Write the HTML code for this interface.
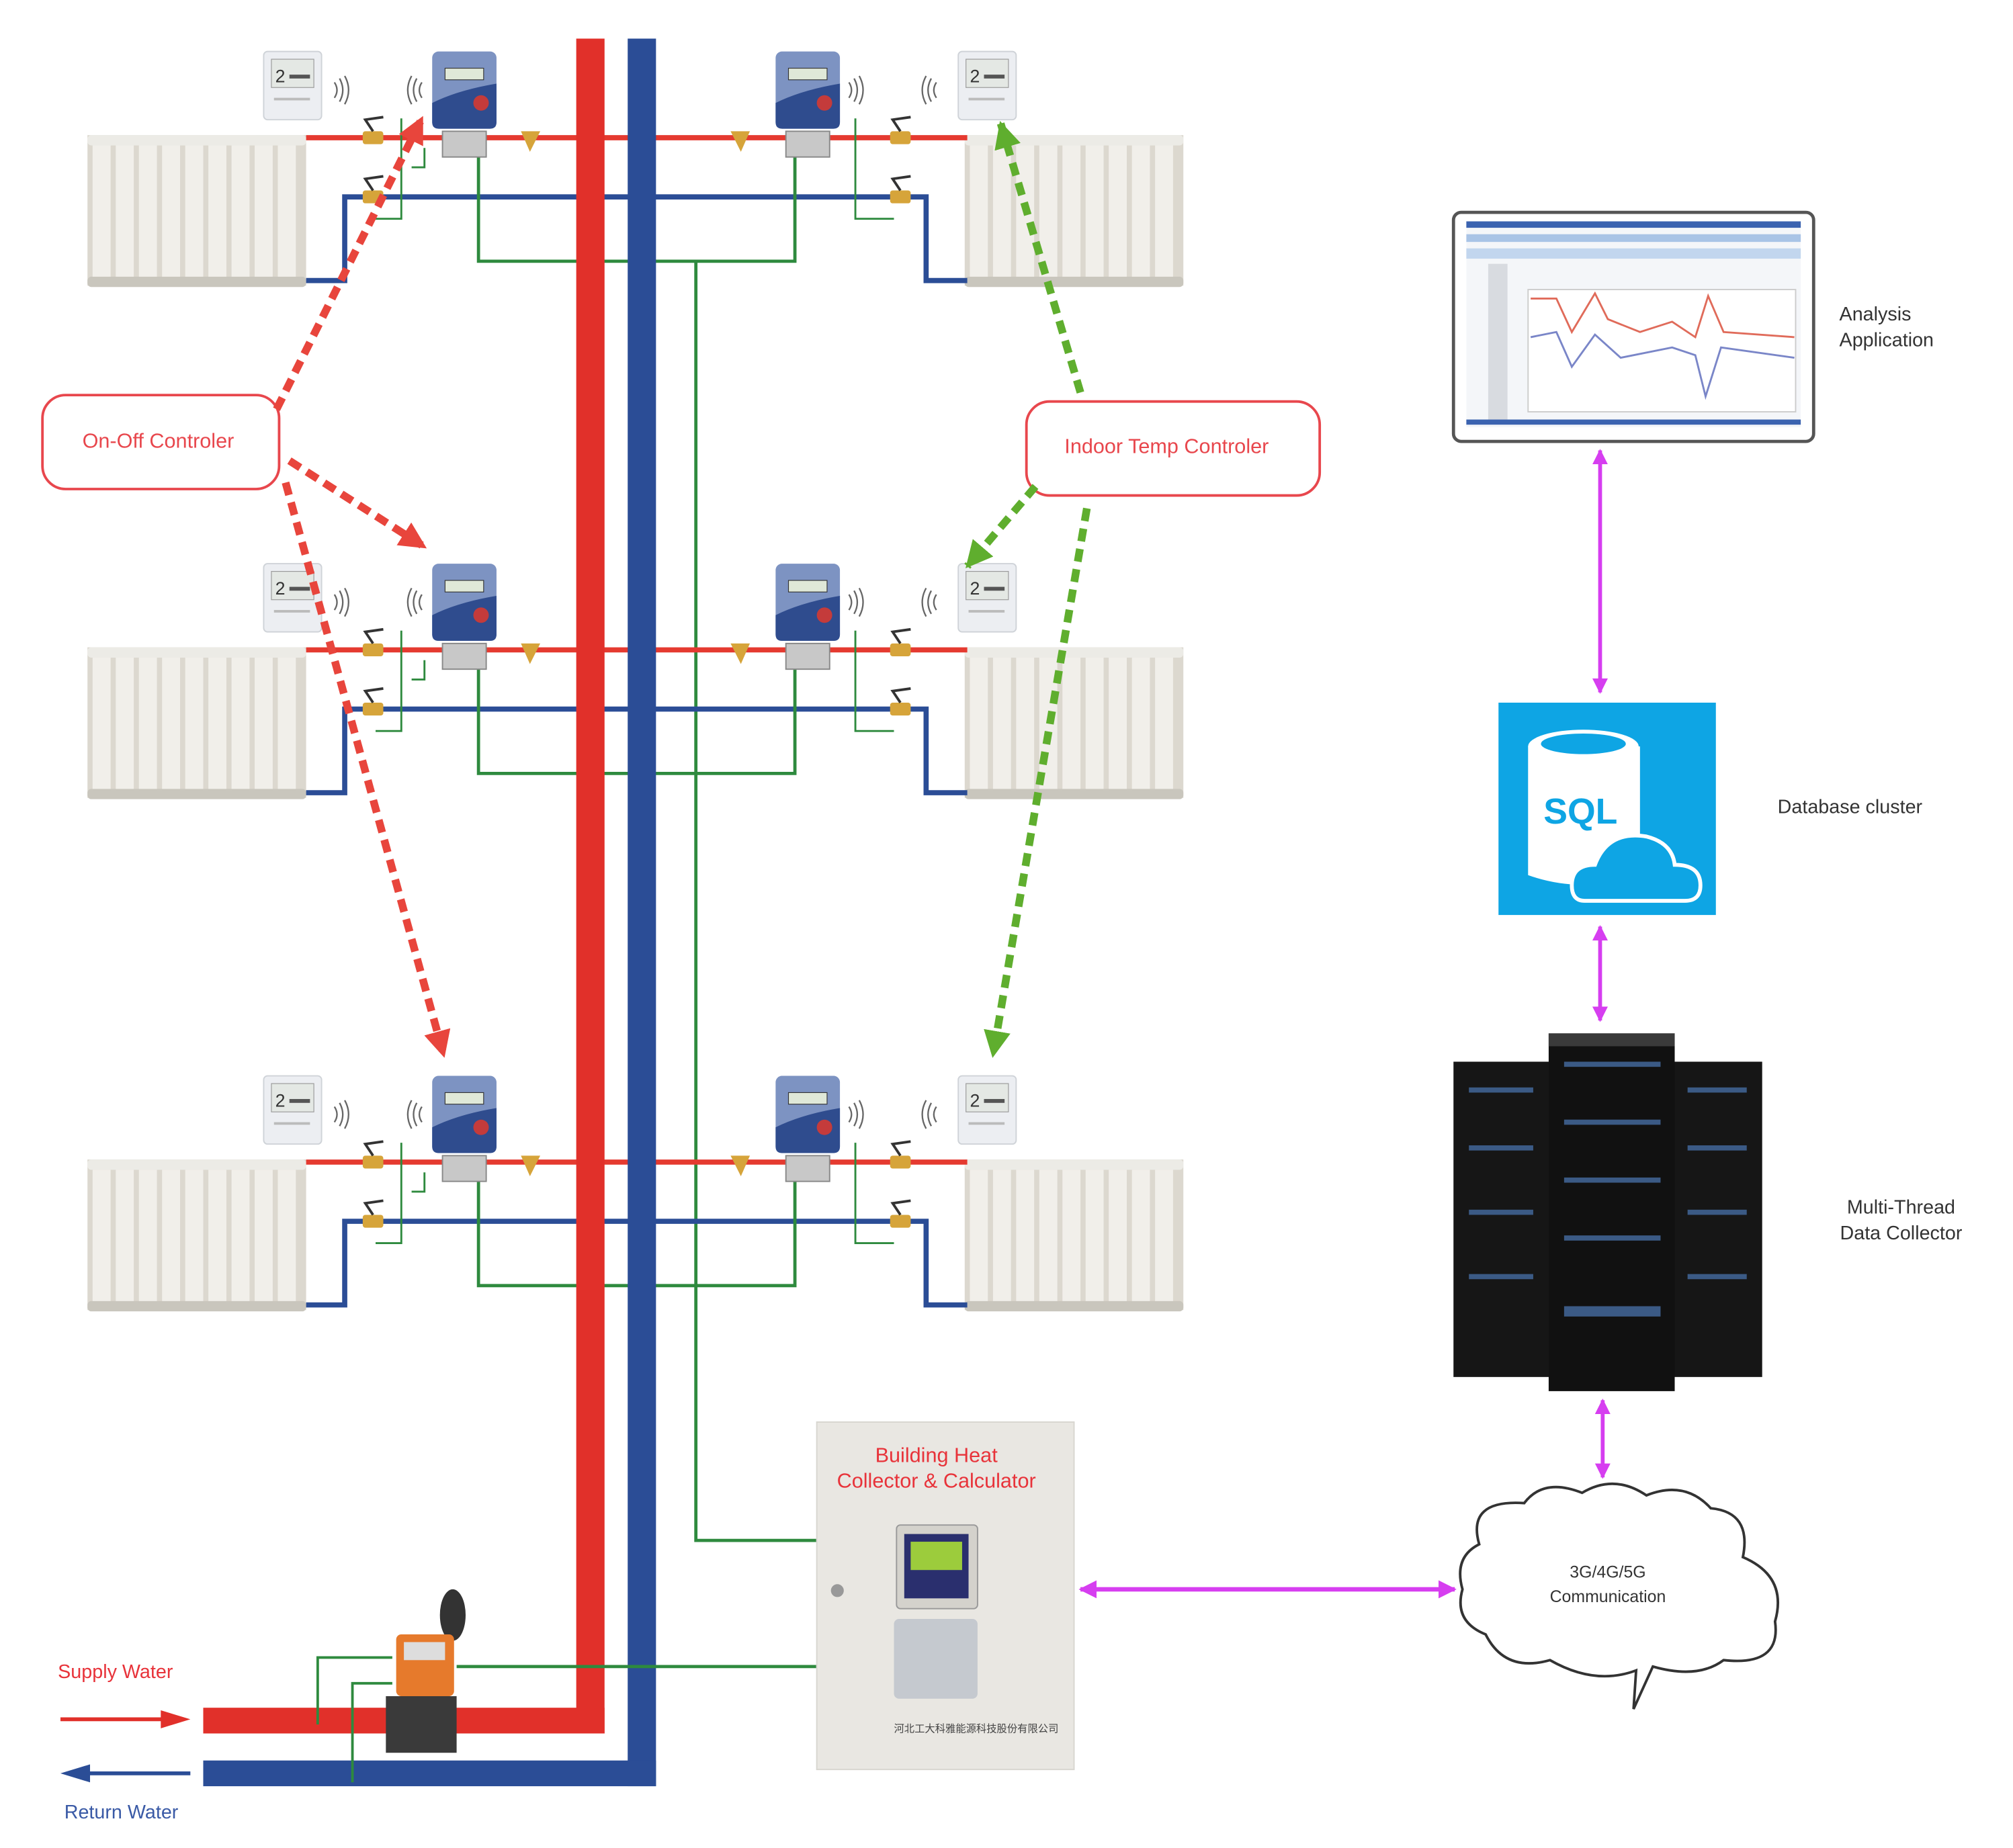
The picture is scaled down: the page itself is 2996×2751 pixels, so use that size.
<!DOCTYPE html>
<html><head><meta charset="utf-8"><style>
html,body{margin:0;padding:0;background:#fff;}
svg{display:block;}
text{font-family:"Liberation Sans",sans-serif;}
</style></head><body>
<svg width="2996" height="2751" viewBox="0 0 1565 1436" preserveAspectRatio="none" xmlns="http://www.w3.org/2000/svg">
<defs>
  <g id="rad">
    <rect x="0" y="0" width="170" height="117" fill="#dcd8cf"/>
    <rect x="0" y="0" width="170" height="8" rx="3" fill="#ecebe6"/>
    <rect x="0" y="110" width="170" height="8" rx="3" fill="#c9c6bd"/>
    <g fill="#f1efea">
      <rect x="4" y="8" width="14" height="102"/><rect x="22" y="8" width="14" height="102"/>
      <rect x="40" y="8" width="14" height="102"/><rect x="58" y="8" width="14" height="102"/>
      <rect x="76" y="8" width="14" height="102"/><rect x="94" y="8" width="14" height="102"/>
      <rect x="112" y="8" width="14" height="102"/><rect x="130" y="8" width="14" height="102"/>
      <rect x="148" y="8" width="14" height="102"/>
    </g>
  </g>
  <g id="thermo">
    <rect x="0" y="0" width="45" height="53" rx="3" fill="#eceef2" stroke="#cfd3d8"/>
    <rect x="6" y="6" width="33" height="22" fill="#e4e8e4" stroke="#999" stroke-width="0.6"/>
    <text x="9" y="24" font-size="14" fill="#333">2</text>
    <rect x="20" y="18" width="16" height="3" fill="#555"/>
    <rect x="8" y="36" width="28" height="2" fill="#bbb"/>
  </g>
  <g id="meter">
    <rect x="0" y="0" width="50" height="60" rx="5" fill="#7d93c2"/>
    <path d="M0 40 Q20 30 50 25 L50 55 Q50 60 45 60 L5 60 Q0 60 0 55Z" fill="#2f4c8e"/>
    <rect x="10" y="13" width="30" height="9" fill="#dfe8d8" stroke="#333" stroke-width="0.6"/>
    <circle cx="38" cy="40" r="6" fill="#c43b3b"/>
    <rect x="8" y="62" width="34" height="20" fill="#c8c8c8" stroke="#888"/>
  </g>
  <g id="valve">
    <rect x="-8" y="-5" width="16" height="10" rx="2" fill="#d6a43a"/>
    <path d="M0 -5 L-6 -14 L8 -16" stroke="#333" stroke-width="2" fill="none"/>
  </g>
  <g id="waves" fill="none" stroke="#666" stroke-width="1.2">
    <path d="M0 -6 Q4 0 0 6"/><path d="M4 -9 Q9 0 4 9"/><path d="M8 -11 Q14 0 8 11"/>
  </g>
  <g id="wavesL" fill="none" stroke="#666" stroke-width="1.2">
    <path d="M0 -6 Q-4 0 0 6"/><path d="M-4 -9 Q-9 0 -4 9"/><path d="M-8 -11 Q-14 0 -8 11"/>
  </g>
  <g id="floor">
    <use href="#rad" x="68" y="105"/>
    <use href="#rad" x="750" y="105"/>
    <line x1="238" y1="107" x2="752" y2="107" stroke="#e53a30" stroke-width="4"/>
    <polyline points="238,218 268,218 268,153 720,153 720,218 752,218" fill="none" stroke="#2b4d96" stroke-width="4"/>
    <polyline points="372,110 372,203 618,203 618,110" fill="none" stroke="#2e8a3e" stroke-width="2.5"/>
    <polyline points="330,115 330,130 320,130" fill="none" stroke="#2e8a3e" stroke-width="1.5"/>
    <polyline points="312,92 312,170 292,170" fill="none" stroke="#2e8a3e" stroke-width="1.5"/>
    <polyline points="665,92 665,170 695,170" fill="none" stroke="#2e8a3e" stroke-width="1.5"/>
    <use href="#thermo" x="205" y="40"/>
    <use href="#thermo" x="745" y="40"/>
    <use href="#meter" x="336" y="40"/>
    <use href="#meter" x="603" y="40"/>
    <use href="#waves" x="260" y="70"/>
    <use href="#wavesL" x="328" y="70"/>
    <use href="#waves" x="660" y="70"/>
    <use href="#wavesL" x="728" y="70"/>
    <use href="#valve" x="290" y="107"/>
    <use href="#valve" x="290" y="153"/>
    <use href="#valve" x="700" y="107"/>
    <use href="#valve" x="700" y="153"/>
    <path d="M405 102 L420 102 L412 118Z" fill="#d6a43a"/>
    <path d="M568 102 L583 102 L576 118Z" fill="#d6a43a"/>
  </g>
  <marker id="mag" viewBox="0 0 10 10" refX="9" refY="5" markerWidth="4" markerHeight="4" orient="auto-start-reverse"><path d="M0 0 L10 5 L0 10Z" fill="#d63ef0"/></marker>
  <marker id="ra" viewBox="0 0 10 10" refX="9" refY="5" markerWidth="3.5" markerHeight="3.5" orient="auto"><path d="M0 0 L10 5 L0 10Z" fill="#e8453c"/></marker>
  <marker id="ga" viewBox="0 0 10 10" refX="9" refY="5" markerWidth="3.5" markerHeight="3.5" orient="auto"><path d="M0 0 L10 5 L0 10Z" fill="#5fae2e"/></marker>
</defs>

<polyline points="541,203 541,1197 635,1197" fill="none" stroke="#2e8a3e" stroke-width="2.5"/>

<use href="#floor" x="0" y="0"/>
<use href="#floor" x="0" y="398"/>
<use href="#floor" x="0" y="796"/>

<rect x="448" y="30" width="22" height="1317" fill="#e1302a"/>
<rect x="488" y="30" width="22" height="1358" fill="#2b4d96"/>
<rect x="158" y="1327" width="312" height="20" fill="#e1302a"/>
<rect x="158" y="1368" width="352" height="20" fill="#2b4d96"/>

<text x="45" y="1304" font-size="15" fill="#e8333a">Supply Water</text>
<line x1="47" y1="1336" x2="130" y2="1336" stroke="#e1302a" stroke-width="3"/>
<path d="M125 1329 L148 1336 L125 1343Z" fill="#e1302a"/>
<line x1="65" y1="1378" x2="148" y2="1378" stroke="#2b4d96" stroke-width="3"/>
<path d="M70 1371 L47 1378 L70 1385Z" fill="#2b4d96"/>
<text x="50" y="1413" font-size="15" fill="#3a5aa6">Return Water</text>

<polyline points="635,1295 355,1295" fill="none" stroke="#2e8a3e" stroke-width="2.5"/>
<polyline points="305,1288 247,1288 247,1340" fill="none" stroke="#2e8a3e" stroke-width="2"/>
<polyline points="305,1308 274,1308 274,1385" fill="none" stroke="#2e8a3e" stroke-width="2"/>
<ellipse cx="352" cy="1255" rx="10" ry="20" fill="#333"/>
<rect x="308" y="1270" width="45" height="48" rx="4" fill="#e67a2c"/>
<rect x="314" y="1276" width="32" height="14" fill="#ddd"/>
<path d="M300 1318 L355 1318 L355 1362 L300 1362Z" fill="#3a3a3a"/>

<rect x="33" y="307" width="184" height="73" rx="18" fill="#fff" stroke="#e8474d" stroke-width="2"/>
<text x="123" y="348" font-size="16" fill="#e8474d" text-anchor="middle">On-Off Controler</text>
<rect x="798" y="312" width="228" height="73" rx="18" fill="#fff" stroke="#e8474d" stroke-width="2"/>
<text x="907" y="352" font-size="16" fill="#e8474d" text-anchor="middle">Indoor Temp Controler</text>

<g fill="none" stroke-width="6" stroke-dasharray="10,6">
  <line x1="215" y1="318" x2="328" y2="92" stroke="#e8453c" marker-end="url(#ra)"/>
  <line x1="225" y1="358" x2="330" y2="425" stroke="#e8453c" marker-end="url(#ra)"/>
  <line x1="222" y1="375" x2="345" y2="820" stroke="#e8453c" marker-end="url(#ra)"/>
  <line x1="840" y1="305" x2="778" y2="96" stroke="#5fae2e" marker-end="url(#ga)"/>
  <line x1="805" y1="378" x2="752" y2="440" stroke="#5fae2e" marker-end="url(#ga)"/>
  <line x1="845" y1="395" x2="772" y2="820" stroke="#5fae2e" marker-end="url(#ga)"/>
</g>

<rect x="635" y="1105" width="200" height="270" fill="#e9e7e2" stroke="#d8d6d0"/>
<text x="728" y="1136" font-size="16" fill="#e8333a" text-anchor="middle">Building Heat</text>
<text x="728" y="1156" font-size="16" fill="#e8333a" text-anchor="middle">Collector &amp; Calculator</text>
<rect x="697" y="1185" width="63" height="65" rx="3" fill="#d4d2cc" stroke="#999"/>
<rect x="703" y="1192" width="50" height="50" fill="#2a2f6e"/>
<rect x="708" y="1198" width="40" height="22" fill="#9ccc3c"/>
<rect x="695" y="1258" width="65" height="62" rx="4" fill="#c5c9cf"/>
<circle cx="651" cy="1236" r="5" fill="#999"/>
<text x="695" y="1346" font-size="8" fill="#444">河北工大科雅能源科技股份有限公司</text>

<rect x="1130" y="165" width="280" height="178" rx="6" fill="#fff" stroke="#555" stroke-width="2.5"/>
<rect x="1140" y="172" width="260" height="160" fill="#f4f6f9"/>
<rect x="1140" y="172" width="260" height="5" fill="#3b63b0"/>
<rect x="1140" y="182" width="260" height="6" fill="#a9c4e6"/>
<rect x="1140" y="193" width="260" height="8" fill="#c2d6ee"/>
<rect x="1157" y="205" width="15" height="122" fill="#d8dbe0"/>
<rect x="1188" y="225" width="208" height="95" fill="#fff" stroke="#ccc"/>
<polyline points="1190,232 1210,232 1222,258 1240,228 1250,248 1275,258 1300,250 1318,262 1328,230 1340,258 1395,262" fill="none" stroke="#e06b5a" stroke-width="1.5"/>
<polyline points="1190,262 1210,258 1222,285 1240,260 1260,278 1300,270 1318,276 1326,308 1338,270 1395,278" fill="none" stroke="#7a86c8" stroke-width="1.5"/>
<rect x="1140" y="326" width="260" height="4" fill="#3b63b0"/>
<text x="1430" y="249" font-size="15" fill="#333">Analysis</text>
<text x="1430" y="269" font-size="15" fill="#333">Application</text>

<line x1="1244" y1="350" x2="1244" y2="538" stroke="#d63ef0" stroke-width="3" marker-start="url(#mag)" marker-end="url(#mag)"/>

<rect x="1165" y="546" width="169" height="165" fill="#0ea5e4"/>
<path d="M1188 580 L1188 680 Q1230 695 1275 680 L1275 580Z" fill="#fff"/>
<ellipse cx="1231" cy="580" rx="43" ry="13" fill="#fff"/>
<ellipse cx="1231" cy="578" rx="33" ry="8" fill="#0ea5e4"/>
<text x="1200" y="640" font-size="28" font-weight="bold" fill="#0ea5e4">SQL</text>
<path d="M1232 700 Q1222 700 1222 688 Q1222 672 1240 672 Q1250 645 1280 650 Q1300 655 1302 672 Q1322 672 1322 688 Q1322 700 1310 700Z" fill="#0ea5e4" stroke="#fff" stroke-width="3"/>
<text x="1382" y="632" font-size="15" fill="#333">Database cluster</text>

<line x1="1244" y1="720" x2="1244" y2="793" stroke="#d63ef0" stroke-width="3" marker-start="url(#mag)" marker-end="url(#mag)"/>

<rect x="1130" y="825" width="75" height="245" fill="#161616"/>
<rect x="1300" y="825" width="70" height="245" fill="#161616"/>
<rect x="1204" y="803" width="98" height="278" fill="#111"/>
<rect x="1204" y="803" width="98" height="10" fill="#3a3a3a"/>
<g fill="#3b5a85">
  <rect x="1142" y="845" width="50" height="4"/><rect x="1142" y="890" width="50" height="4"/><rect x="1142" y="940" width="50" height="4"/><rect x="1142" y="990" width="50" height="4"/>
  <rect x="1312" y="845" width="46" height="4"/><rect x="1312" y="890" width="46" height="4"/><rect x="1312" y="940" width="46" height="4"/><rect x="1312" y="990" width="46" height="4"/>
  <rect x="1216" y="825" width="75" height="4"/><rect x="1216" y="870" width="75" height="4"/><rect x="1216" y="915" width="75" height="4"/><rect x="1216" y="960" width="75" height="4"/><rect x="1216" y="1015" width="75" height="8"/>
</g>
<text x="1478" y="943" font-size="15" fill="#333" text-anchor="middle">Multi-Thread</text>
<text x="1478" y="963" font-size="15" fill="#333" text-anchor="middle">Data Collector</text>

<line x1="1246" y1="1088" x2="1246" y2="1148" stroke="#d63ef0" stroke-width="3" marker-start="url(#mag)" marker-end="url(#mag)"/>

<path d="M1150 1200 Q1140 1165 1185 1168 Q1200 1148 1230 1160 Q1255 1145 1280 1162 Q1310 1150 1330 1172 Q1362 1175 1355 1210 Q1390 1225 1380 1260 Q1385 1295 1340 1290 Q1320 1305 1285 1295 L1270 1328 L1272 1298 Q1240 1310 1205 1290 Q1170 1300 1155 1270 Q1130 1260 1137 1235 Q1130 1210 1150 1200Z" fill="#fff" stroke="#333" stroke-width="2"/>
<text x="1250" y="1226" font-size="13" fill="#333" text-anchor="middle">3G/4G/5G</text>
<text x="1250" y="1245" font-size="13" fill="#333" text-anchor="middle">Communication</text>

<line x1="840" y1="1235" x2="1131" y2="1235" stroke="#d63ef0" stroke-width="3.5" marker-start="url(#mag)" marker-end="url(#mag)"/>
</svg>
</body></html>
